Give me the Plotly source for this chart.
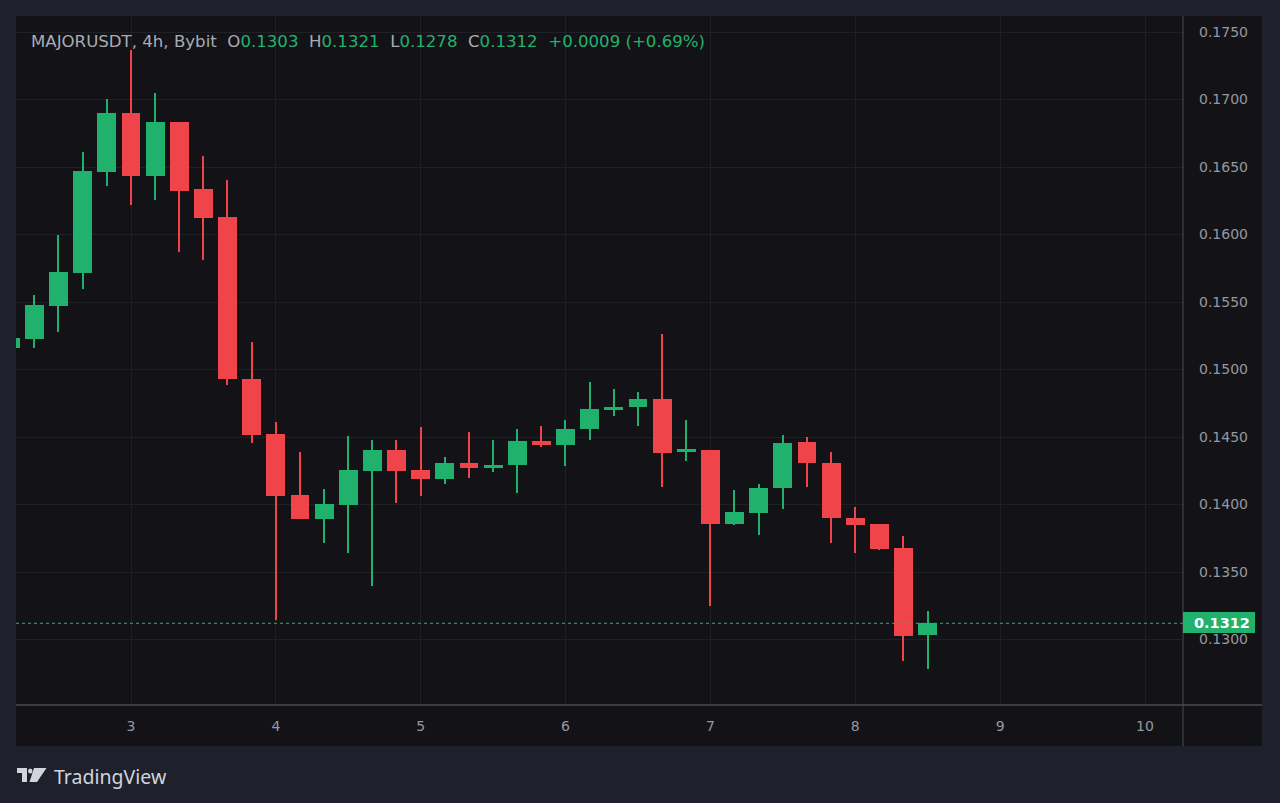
import plotly.graph_objects as go

# ---------------- data (4h candles, x in days of month) ----------------
start_day = 2 + 4 / 24          # first candle: day 2, 04:00
step = 4 / 24                   # 4 hours
opens = [0.15160, 0.15224, 0.15470, 0.15717, 0.16465, 0.16898, 0.16436, 0.16831, 0.16335, 0.16127,
         0.14930, 0.14520, 0.14070, 0.13895, 0.13996, 0.14248, 0.14404, 0.14256, 0.14187, 0.14310,
         0.14270, 0.14290, 0.14473, 0.14441, 0.14557, 0.14700, 0.14720, 0.14779, 0.14387, 0.14404,
         0.13856, 0.13935, 0.14120, 0.14461, 0.14310, 0.13902, 0.13856, 0.13676, 0.13030]
highs = [0.15240, 0.15552, 0.15996, 0.16609, 0.17006, 0.17367, 0.17046, 0.16835, 0.16581, 0.16404,
         0.15206, 0.14609, 0.14391, 0.14113, 0.14507, 0.14478, 0.14478, 0.14576, 0.14350, 0.14539,
         0.14478, 0.14557, 0.14581, 0.14626, 0.14910, 0.14853, 0.14831, 0.15263, 0.14626, 0.14404,
         0.14107, 0.14150, 0.14515, 0.14502, 0.14391, 0.13984, 0.13856, 0.13767, 0.13210]
lows = [0.15150, 0.15159, 0.15280, 0.15594, 0.16359, 0.16219, 0.16256, 0.15868, 0.15811, 0.14885,
        0.14453, 0.13144, 0.13890, 0.13713, 0.13643, 0.13396, 0.14013, 0.14065, 0.14152, 0.14199,
        0.14243, 0.14083, 0.14428, 0.14285, 0.14478, 0.14656, 0.14581, 0.14132, 0.14322, 0.13248,
        0.13850, 0.13774, 0.13964, 0.14127, 0.13713, 0.13639, 0.13665, 0.12841, 0.12780]
closes = [0.15230, 0.15478, 0.15720, 0.16468, 0.16898, 0.16436, 0.16831, 0.16324, 0.16122, 0.14927,
          0.14515, 0.14065, 0.13895, 0.14004, 0.14256, 0.14404, 0.14248, 0.14187, 0.14310, 0.14273,
          0.14295, 0.14473, 0.14441, 0.14561, 0.14705, 0.14725, 0.14779, 0.14384, 0.14409, 0.13856,
          0.13942, 0.14124, 0.14458, 0.14305, 0.13898, 0.13848, 0.13670, 0.13028, 0.13120]
day_ticks = [3, 4, 5, 6, 7, 8, 9, 10]
last_price = 0.1312
header_label = "MAJORUSDT, 4h, Bybit"
header_vals = [("O", "0.1303"), ("H", "0.1321"), ("L", "0.1278"), ("C", "0.1312")]
header_change = "+0.0009 (+0.69%)"

# ---------------- style ----------------
UP = "#20b26c"
DOWN = "#ef454a"
OUTER = "#1e212b"
PANEL = "#131317"
GRID = "#1f2026"
TEXT = "#9598a1"
FONT = "DejaVu Sans"

W, H = 1280, 803
L, R, T, B = 16, 97, 16, 98
PW, PH = W - L - R, H - T - B


def px(x):
    return (x - L) / PW


def py(y):
    return (H - B - y) / PH


xs = [start_day + i * step for i in range(len(opens))]
colors = [UP if c >= o else DOWN for o, c in zip(opens, closes)]
bases = [min(o, c) for o, c in zip(opens, closes)]
heights = [abs(c - o) for o, c in zip(opens, closes)]
wick_h = [h - l for h, l in zip(highs, lows)]

fig = go.Figure()
fig.add_trace(go.Bar(x=xs, y=wick_h, base=lows, width=0.0095,
                     marker=dict(color=colors, line=dict(width=0)), hoverinfo="skip"))
fig.add_trace(go.Bar(x=xs, y=heights, base=bases, width=0.131,
                     marker=dict(color=colors, line=dict(width=0)),
                     customdata=list(zip(opens, highs, lows, closes)),
                     hovertemplate="O %{customdata[0]}<br>H %{customdata[1]}<br>L %{customdata[2]}<br>C %{customdata[3]}<extra></extra>"))

shapes = [
    # dark panel behind chart + axes
    dict(type="rect", xref="paper", yref="paper", x0=px(16), x1=px(1262), y0=py(746), y1=py(16),
         fillcolor=PANEL, line=dict(width=0), layer="below"),
    # last price dotted line
    dict(type="line", xref="paper", yref="y", x0=0, x1=1, y0=last_price, y1=last_price,
         line=dict(color=UP, width=1, dash="dot")),
    # separators
    dict(type="line", xref="paper", yref="paper", x0=px(16), x1=px(1262), y0=py(705), y1=py(705),
         line=dict(color="#3a3c44", width=2)),
    dict(type="line", xref="paper", yref="paper", x0=px(1183), x1=px(1183), y0=py(746), y1=py(16),
         line=dict(color="#4a4c54", width=1)),
    # price label box
    dict(type="rect", xref="paper", yref="paper", x0=px(1183), x1=px(1255), y0=py(633), y1=py(612),
         fillcolor=UP, line=dict(width=0), layer="above"),
    # TradingView logo
    dict(type="path", xref="paper", yref="paper",
         path=f"M {px(17)} {py(768)} L {px(27)} {py(768)} L {px(27)} {py(782)} L {px(22)} {py(782)} "
              f"L {px(22)} {py(773)} L {px(17)} {py(773)} Z",
         fillcolor="#d1d4dc", line=dict(width=0)),
    dict(type="circle", xref="paper", yref="paper", x0=px(28), x1=px(32.5), y0=py(773.5), y1=py(768.5),
         fillcolor="#d1d4dc", line=dict(width=0)),
    dict(type="path", xref="paper", yref="paper",
         path=f"M {px(34)} {py(768)} L {px(46.5)} {py(768)} L {px(37)} {py(782)} L {px(29.5)} {py(782)} Z",
         fillcolor="#d1d4dc", line=dict(width=0)),
]

SEP = "&nbsp;&nbsp;"
header = f"<span style='color:#a9acb4'>{header_label}</span>"
for k, v in header_vals:
    header += f"{SEP}<span style='color:#a9acb4'>{k}</span><span style='color:{UP}'>{v}</span>"
header += f"{SEP}<span style='color:{UP}'>{header_change}</span>"

annotations = [
    dict(text=header, xref="paper", yref="paper", x=px(29), y=py(42), xanchor="left", yanchor="middle",
         showarrow=False, font=dict(family=FONT, size=16.6, color="#a9acb4")),
    dict(text=f"<b>{last_price:.4f}</b>", xref="paper", yref="paper", x=px(1222), y=py(623),
         xanchor="center", yanchor="middle", showarrow=False,
         font=dict(family=FONT, size=14.5, color="#ffffff")),
    dict(text="TradingView", xref="paper", yref="paper", x=px(52), y=py(776), xanchor="left",
         yanchor="middle", showarrow=False, font=dict(family="Noto Sans", size=19.5, color="#d1d4dc")),
]

fig.update_layout(
    width=W, height=H,
    margin=dict(l=L, r=R, t=T, b=B, pad=0),
    paper_bgcolor=OUTER, plot_bgcolor=PANEL,
    barmode="overlay", bargap=0, showlegend=False,
    shapes=shapes, annotations=annotations,
    font=dict(family=FONT, color=TEXT, size=14),
    xaxis=dict(range=[2.2061, 10.2623], tickvals=day_ticks, ticktext=[str(d) for d in day_ticks],
               showgrid=True, gridcolor=GRID, gridwidth=1, zeroline=False, showline=False,
               ticks="", ticklabelstandoff=11, tickfont=dict(size=14, color=TEXT), fixedrange=True),
    yaxis=dict(range=[0.125148, 0.176185], side="right", tick0=0, dtick=0.005, tickformat=".4f",
               showgrid=True, gridcolor=GRID, gridwidth=1, zeroline=False, showline=False,
               ticks="", ticklabelstandoff=15, tickfont=dict(size=14, color=TEXT), fixedrange=True),
)

fig.write_html("out.html")
